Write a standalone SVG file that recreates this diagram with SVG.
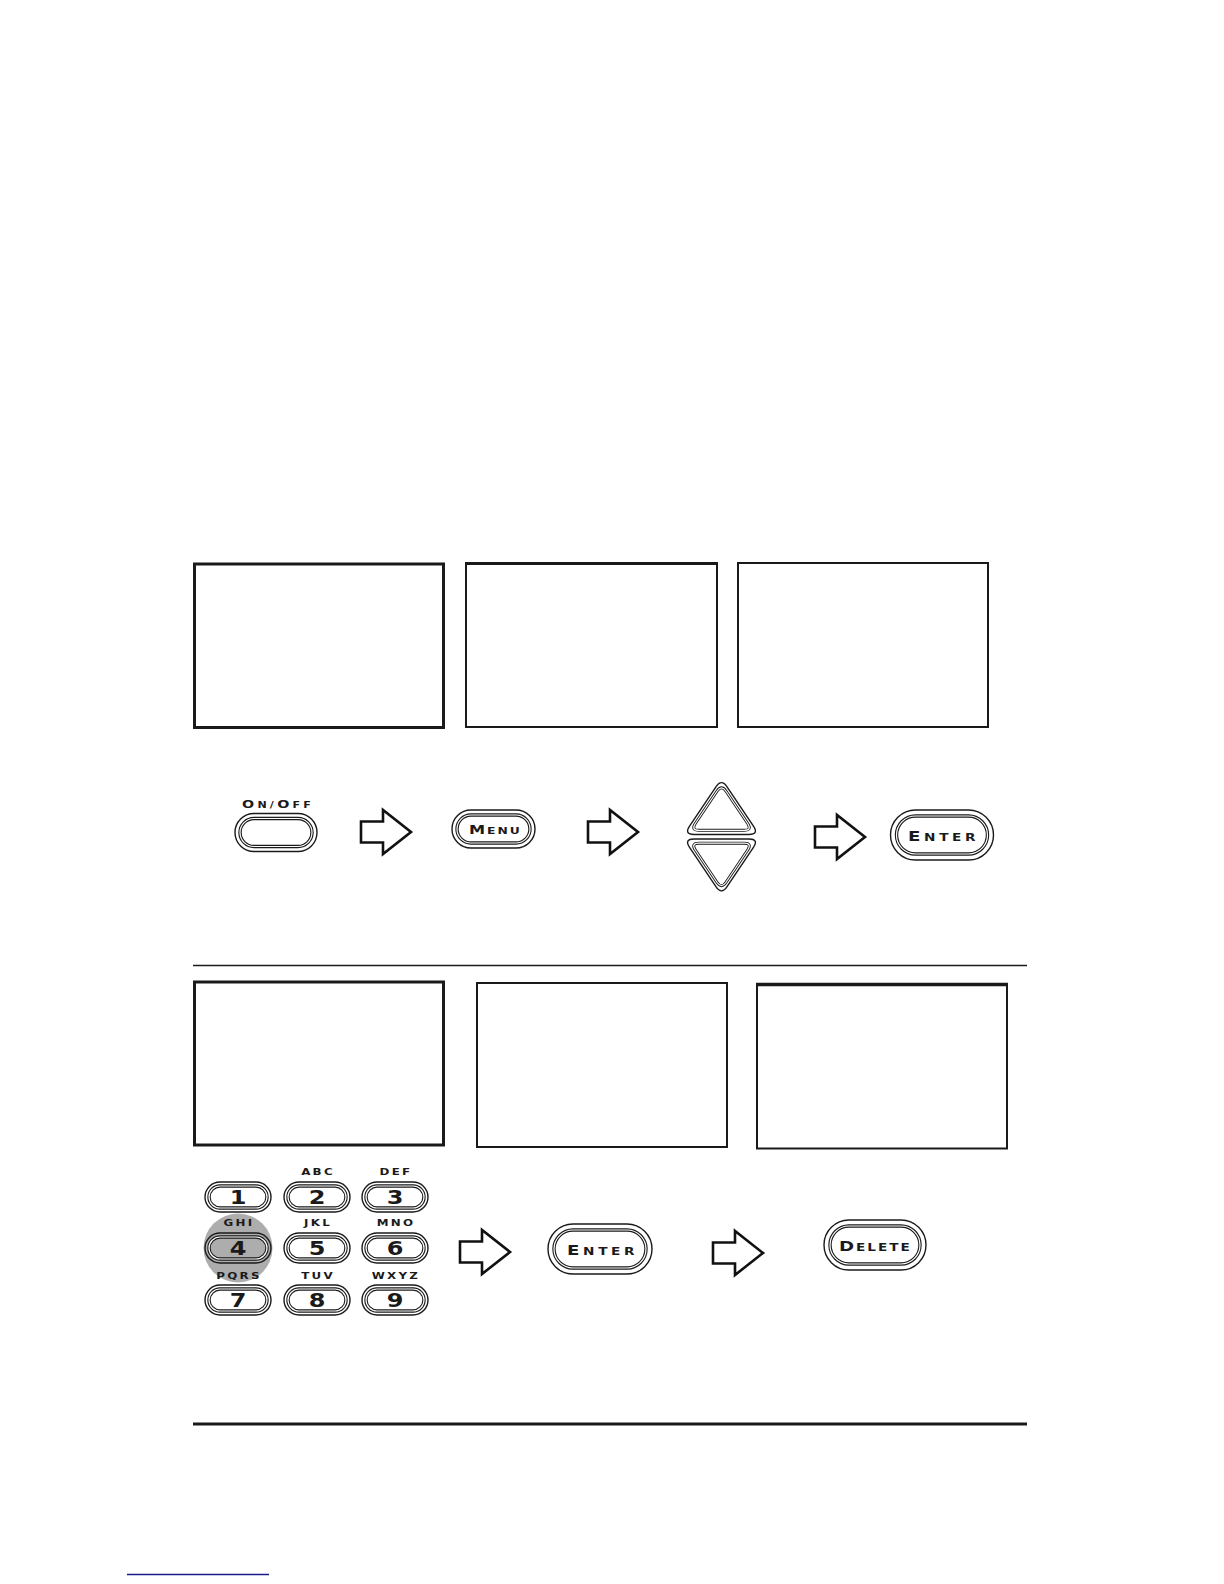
<svg xmlns="http://www.w3.org/2000/svg" xmlns:xlink="http://www.w3.org/1999/xlink" width="1224" height="1584" viewBox="0 0 1224 1584">
  <style>
    .scr { fill: #ffffff; stroke: #1a1a1a; stroke-width: 2; }
    .scr-thick { fill: #ffffff; stroke: #1a1a1a; stroke-width: 3; }
    .o { fill: #ffffff; stroke: #1a1a1a; stroke-width: 1.4; }
    .ib { fill: none; stroke: #1a1a1a; stroke-width: 3.4; }
    .iw { fill: none; stroke: #ffffff; stroke-width: 1.2; }
    .on { fill: none; stroke: #1a1a1a; stroke-width: 1.4; }
    .lbl { font-family: "DejaVu Sans", "Liberation Sans", sans-serif; font-weight: bold; fill: #1a1a1a; }
    .dig { font-family: "DejaVu Sans", "Liberation Sans", sans-serif; font-weight: bold; font-size: 20px; fill: #1a1a1a; text-anchor: middle; }
    .let { font-family: "DejaVu Sans", "Liberation Sans", sans-serif; font-weight: bold; font-size: 9.5px; letter-spacing: 1.8px; fill: #1a1a1a; text-anchor: middle; }
    .arr { fill: #ffffff; stroke: #111111; stroke-width: 2.6; stroke-linejoin: miter; }
    .rule { stroke: #1a1a1a; fill: none; }
  </style>
  <defs>
    <path id="blockArrow" d="M0,-10.5 H22 V-22 L50,0 L22,22 V10.5 H0 Z"/>
    <path id="tri" d="M5.56,-21.69 L31.94,17.69 Q37.5,26 27.5,26 L-27.5,26 Q-37.5,26 -31.94,17.69 L-5.56,-21.69 Q0,-30 5.56,-21.69 Z"/>
  </defs>
  <rect x="0" y="0" width="1224" height="1584" fill="#ffffff"/>

  <!-- top row screens -->
  <g id="screen1"><rect class="scr-thick" x="194.5" y="564" width="249" height="163.5"/></g>
  <g id="screen2"><rect class="scr" x="466" y="563" width="251" height="164"/><line class="rule" x1="465" y1="563.5" x2="718" y2="563.5" stroke-width="3"/></g>
  <g id="screen3"><rect class="scr" x="738" y="563" width="250" height="164" stroke-width="2.4"/></g>

  <!-- top row buttons -->
  <g id="btn-onoff">
    <text class="lbl" transform="translate(242,807.5) scale(1.3,1)" textLength="53" lengthAdjust="spacing"><tspan font-size="11">O</tspan><tspan font-size="8.5">N/</tspan><tspan font-size="11">O</tspan><tspan font-size="8.5">FF</tspan></text>
    <rect class="o" x="235" y="813.5" width="82" height="38" rx="19"/>
    <rect class="ib" x="240" y="818.5" width="72" height="28" rx="14"/>
    <rect class="iw" x="240" y="818.5" width="72" height="28" rx="14"/>
  </g>
  <g id="btn-menu">
    <rect class="o" x="452" y="810" width="83" height="38" rx="19"/>
    <rect class="ib" x="457" y="815" width="73" height="28" rx="14"/>
    <rect class="iw" x="457" y="815" width="73" height="28" rx="14"/>
    <text class="lbl" transform="translate(469,834) scale(1.3,1)" textLength="39" lengthAdjust="spacing"><tspan font-size="12.5">M</tspan><tspan font-size="9.5">ENU</tspan></text>
  </g>
  <g id="btn-updown">
    <g transform="translate(721.5,808.5)">
      <use xlink:href="#tri" class="o"/>
      <use xlink:href="#tri" transform="translate(0,0.5) scale(0.82)" fill="none" stroke="#1a1a1a" stroke-width="3.6"/>
      <use xlink:href="#tri" transform="translate(0,0.5) scale(0.82)" fill="none" stroke="#ffffff" stroke-width="1.4"/>
    </g>
    <g transform="translate(721.5,865) scale(1,-1)">
      <use xlink:href="#tri" class="o"/>
      <use xlink:href="#tri" transform="translate(0,0.5) scale(0.82)" fill="none" stroke="#1a1a1a" stroke-width="3.6"/>
      <use xlink:href="#tri" transform="translate(0,0.5) scale(0.82)" fill="none" stroke="#ffffff" stroke-width="1.4"/>
    </g>
  </g>
  <g id="btn-enter-1">
    <rect class="o" x="890.5" y="810" width="103" height="50" rx="25"/>
    <rect class="ib" x="896.5" y="816" width="91" height="38" rx="19"/>
    <rect class="iw" x="896.5" y="816" width="91" height="38" rx="19"/>
    <text class="lbl" transform="translate(908,840.5) scale(1.3,1)" textLength="52" lengthAdjust="spacing"><tspan font-size="14">E</tspan><tspan font-size="10.5">NTER</tspan></text>
  </g>

  <line id="separator" class="rule" x1="193" y1="965.5" x2="1027" y2="965.5" stroke-width="1.6"/>

  <!-- bottom row screens -->
  <g id="screen4"><rect class="scr-thick" x="194.5" y="982" width="249" height="163"/></g>
  <g id="screen5"><rect class="scr" x="477" y="983" width="250" height="164"/></g>
  <g id="screen6"><rect class="scr" x="757" y="984.5" width="250" height="164"/><line class="rule" x1="756" y1="984.5" x2="1008" y2="984.5" stroke-width="3.5"/></g>

  <!-- keypad -->
  <g id="keypad">
    <circle cx="238" cy="1248" r="34.5" fill="#adadad"/>
    <text class="let" transform="translate(318,1175) scale(1.25,1)">ABC</text>
    <text class="let" transform="translate(396,1175) scale(1.25,1)">DEF</text>
    <text class="let" transform="translate(239,1226) scale(1.25,1)" fill="#3a3a3a">GHI</text>
    <text class="let" transform="translate(318,1226) scale(1.25,1)">JKL</text>
    <text class="let" transform="translate(396,1226) scale(1.25,1)">MNO</text>
    <text class="let" transform="translate(239,1279) scale(1.25,1)">PQRS</text>
    <text class="let" transform="translate(318,1279) scale(1.25,1)">TUV</text>
    <text class="let" transform="translate(396,1279) scale(1.25,1)">WXYZ</text>
    <g id="key1"><rect class="o" x="205" y="1182" width="66" height="30" rx="15"/><rect class="ib" x="209" y="1186" width="58" height="22" rx="11"/><rect class="iw" x="209" y="1186" width="58" height="22" rx="11"/><text class="dig" transform="translate(238,1204) scale(1.2,1)">1</text></g>
    <g id="key2"><rect class="o" x="284" y="1182" width="66" height="30" rx="15"/><rect class="ib" x="288" y="1186" width="58" height="22" rx="11"/><rect class="iw" x="288" y="1186" width="58" height="22" rx="11"/><text class="dig" transform="translate(317,1204) scale(1.2,1)">2</text></g>
    <g id="key3"><rect class="o" x="362" y="1182" width="66" height="30" rx="15"/><rect class="ib" x="366" y="1186" width="58" height="22" rx="11"/><rect class="iw" x="366" y="1186" width="58" height="22" rx="11"/><text class="dig" transform="translate(395,1204) scale(1.2,1)">3</text></g>
    <g id="key4"><rect class="on" x="205" y="1233" width="66" height="30" rx="15"/><rect class="ib" x="209" y="1237" width="58" height="22" rx="11"/><rect class="iw" x="209" y="1237" width="58" height="22" rx="11" stroke="#d0d0d0"/><text class="dig" transform="translate(238,1255) scale(1.2,1)" fill="#2a2a2a">4</text></g>
    <g id="key5"><rect class="o" x="284" y="1233" width="66" height="30" rx="15"/><rect class="ib" x="288" y="1237" width="58" height="22" rx="11"/><rect class="iw" x="288" y="1237" width="58" height="22" rx="11"/><text class="dig" transform="translate(317,1255) scale(1.2,1)">5</text></g>
    <g id="key6"><rect class="o" x="362" y="1233" width="66" height="30" rx="15"/><rect class="ib" x="366" y="1237" width="58" height="22" rx="11"/><rect class="iw" x="366" y="1237" width="58" height="22" rx="11"/><text class="dig" transform="translate(395,1255) scale(1.2,1)">6</text></g>
    <g id="key7"><rect class="o" x="205" y="1285" width="66" height="30" rx="15"/><rect class="ib" x="209" y="1289" width="58" height="22" rx="11"/><rect class="iw" x="209" y="1289" width="58" height="22" rx="11"/><text class="dig" transform="translate(238,1307) scale(1.2,1)">7</text></g>
    <g id="key8"><rect class="o" x="284" y="1285" width="66" height="30" rx="15"/><rect class="ib" x="288" y="1289" width="58" height="22" rx="11"/><rect class="iw" x="288" y="1289" width="58" height="22" rx="11"/><text class="dig" transform="translate(317,1307) scale(1.2,1)">8</text></g>
    <g id="key9"><rect class="o" x="362" y="1285" width="66" height="30" rx="15"/><rect class="ib" x="366" y="1289" width="58" height="22" rx="11"/><rect class="iw" x="366" y="1289" width="58" height="22" rx="11"/><text class="dig" transform="translate(395,1307) scale(1.2,1)">9</text></g>
  </g>

  <g id="btn-enter-2">
    <rect class="o" x="548" y="1224" width="104" height="50" rx="25"/>
    <rect class="ib" x="554" y="1230" width="92" height="38" rx="19"/>
    <rect class="iw" x="554" y="1230" width="92" height="38" rx="19"/>
    <text class="lbl" transform="translate(567,1254.5) scale(1.3,1)" textLength="52" lengthAdjust="spacing"><tspan font-size="14">E</tspan><tspan font-size="10.5">NTER</tspan></text>
  </g>
  <g id="btn-delete">
    <rect class="o" x="824" y="1220" width="102" height="50" rx="25"/>
    <rect class="ib" x="830" y="1226" width="90" height="38" rx="19"/>
    <rect class="iw" x="830" y="1226" width="90" height="38" rx="19"/>
    <text class="lbl" transform="translate(839,1250.5) scale(1.3,1)" textLength="54.5" lengthAdjust="spacing"><tspan font-size="14">D</tspan><tspan font-size="10.5">ELETE</tspan></text>
  </g>

  <!-- connectors: block arrows -->
  <g id="connectors">
    <use xlink:href="#blockArrow" class="arr" transform="translate(361,832)"/>
    <use xlink:href="#blockArrow" class="arr" transform="translate(588,832)"/>
    <use xlink:href="#blockArrow" class="arr" transform="translate(815,837)"/>
    <use xlink:href="#blockArrow" class="arr" transform="translate(460,1252)"/>
    <use xlink:href="#blockArrow" class="arr" transform="translate(713,1253)"/>
  </g>

  <line id="bottom-rule" class="rule" x1="193" y1="1424" x2="1027" y2="1424" stroke-width="3"/>
  <line id="link-underline" x1="127" y1="1574.5" x2="269" y2="1574.5" stroke="#1c1c8c" stroke-width="1.4"/>
</svg>
